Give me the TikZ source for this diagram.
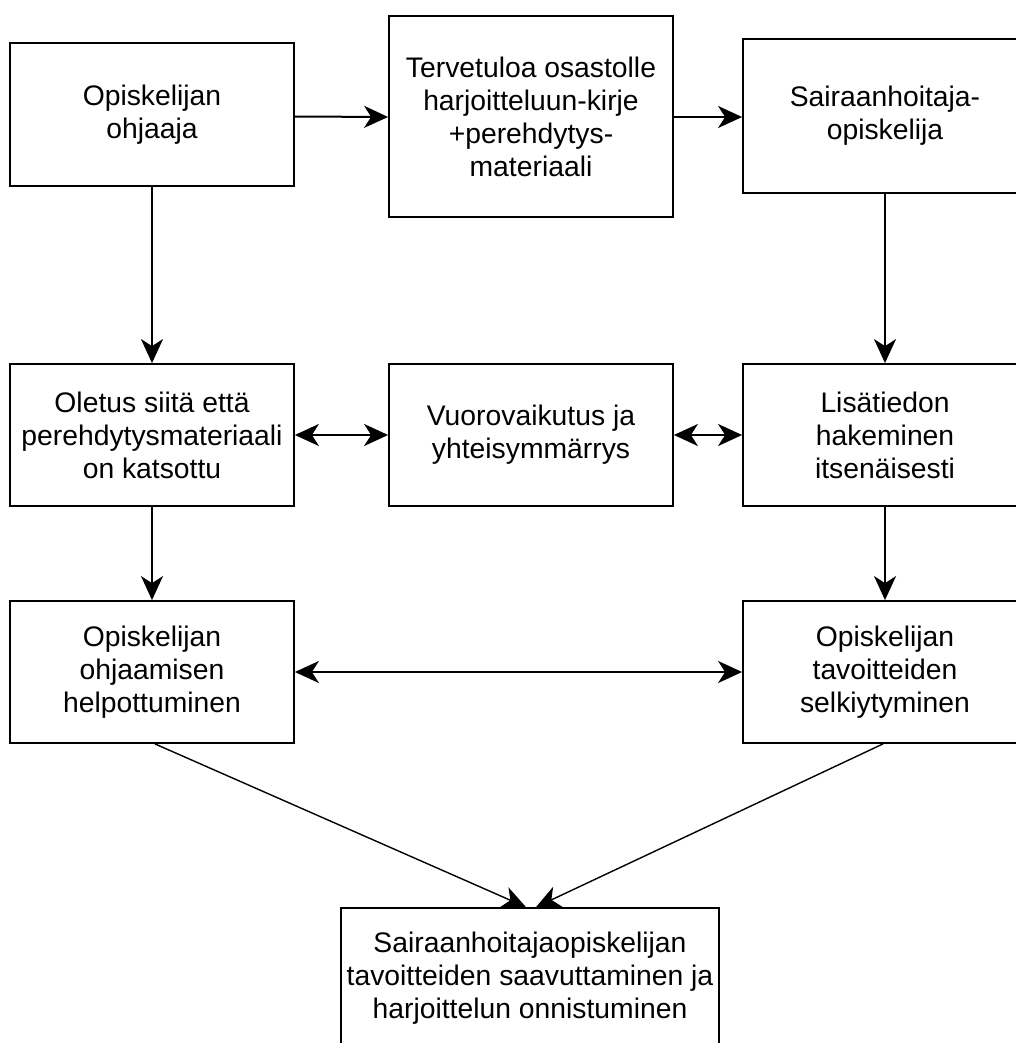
\documentclass[tikz,border=0pt]{standalone}
\usepackage{fontspec}
\setmainfont{Liberation Sans}
\usetikzlibrary{arrows.meta,calc}
\begin{document}
\begin{tikzpicture}[x=1pt,y=-1pt,
  box/.style={draw=black, line width=1.8pt, rectangle, inner sep=0pt,
    align=center, minimum width=284pt,
    font=\fontsize{28.3}{33}\selectfont},
  tip/.tip={Stealth[length=24pt,width=22pt,inset=7pt]},
  arr/.style={line width=2pt, -tip},
  darr/.style={line width=2pt, tip-tip},
  diag/.style={line width=1.4pt, -tip}]
\useasboundingbox (0,0) rectangle (1016,1043);
\clip (0,0) rectangle (1016,1043);
\fill[white] (0,0) rectangle (1016,1043);

% top row
\node[box, minimum height=143pt] (ohjaaja) at (152,114.5) {Opiskelijan\\ohjaaja};
\node[box, minimum height=201pt] (kirje) at (531,116.5)
  {Tervetuloa osastolle\\harjoitteluun-kirje\\+perehdytys-\\materiaali};
\node[box, minimum height=154pt] (opiskelija) at (885,116) {Sairaanhoitaja-\\opiskelija};

% middle row
\node[box, minimum height=142pt] (oletus) at (152,435)
  {Oletus siitä että\\perehdytysmateriaali\\on katsottu};
\node[box, minimum height=142pt] (vuoro) at (531,435) {Vuorovaikutus ja\\yhteisymmärrys};
\node[box, minimum height=142pt] (lisatieto) at (885,435)
  {Lisätiedon\\hakeminen\\itsenäisesti};

% third row
\node[box, minimum height=142pt] (ohjaaminen) at (152,672)
  {Opiskelijan\\ohjaamisen\\helpottuminen};
\node[box, minimum height=142pt] (tavoitteet) at (885,672)
  {Opiskelijan\\tavoitteiden\\selkiytyminen};

% outcome
\node[box, minimum width=378pt, minimum height=140pt] (tulos) at (530,978)
  {Sairaanhoitajaopiskelijan\\tavoitteiden saavuttaminen ja\\harjoittelun onnistuminen};

% connectors
\draw[arr] ($(ohjaaja.east)+(0,2)$) -- ($(kirje.west)+(0,0.5)$);
\draw[arr] ($(kirje.east)+(0,0.5)$) -- ($(opiskelija.west)+(0,1)$);
\draw[arr] (ohjaaja.south) -- (oletus.north);
\draw[arr] (opiskelija.south) -- (lisatieto.north);
\draw[darr] (oletus.east) -- (vuoro.west);
\draw[darr] (vuoro.east) -- (lisatieto.west);
\draw[arr] (oletus.south) -- (ohjaaminen.north);
\draw[arr] (lisatieto.south) -- (tavoitteet.north);
\draw[darr] (ohjaaminen.east) -- (tavoitteet.west);
\draw[diag] ($(ohjaaminen.south)+(3,0)$) -- ($(tulos.north)+(-4,0)$);
\draw[diag] ($(tavoitteet.south)+(-2,0)$) -- ($(tulos.north)+(6,0)$);
\end{tikzpicture}
\end{document}
